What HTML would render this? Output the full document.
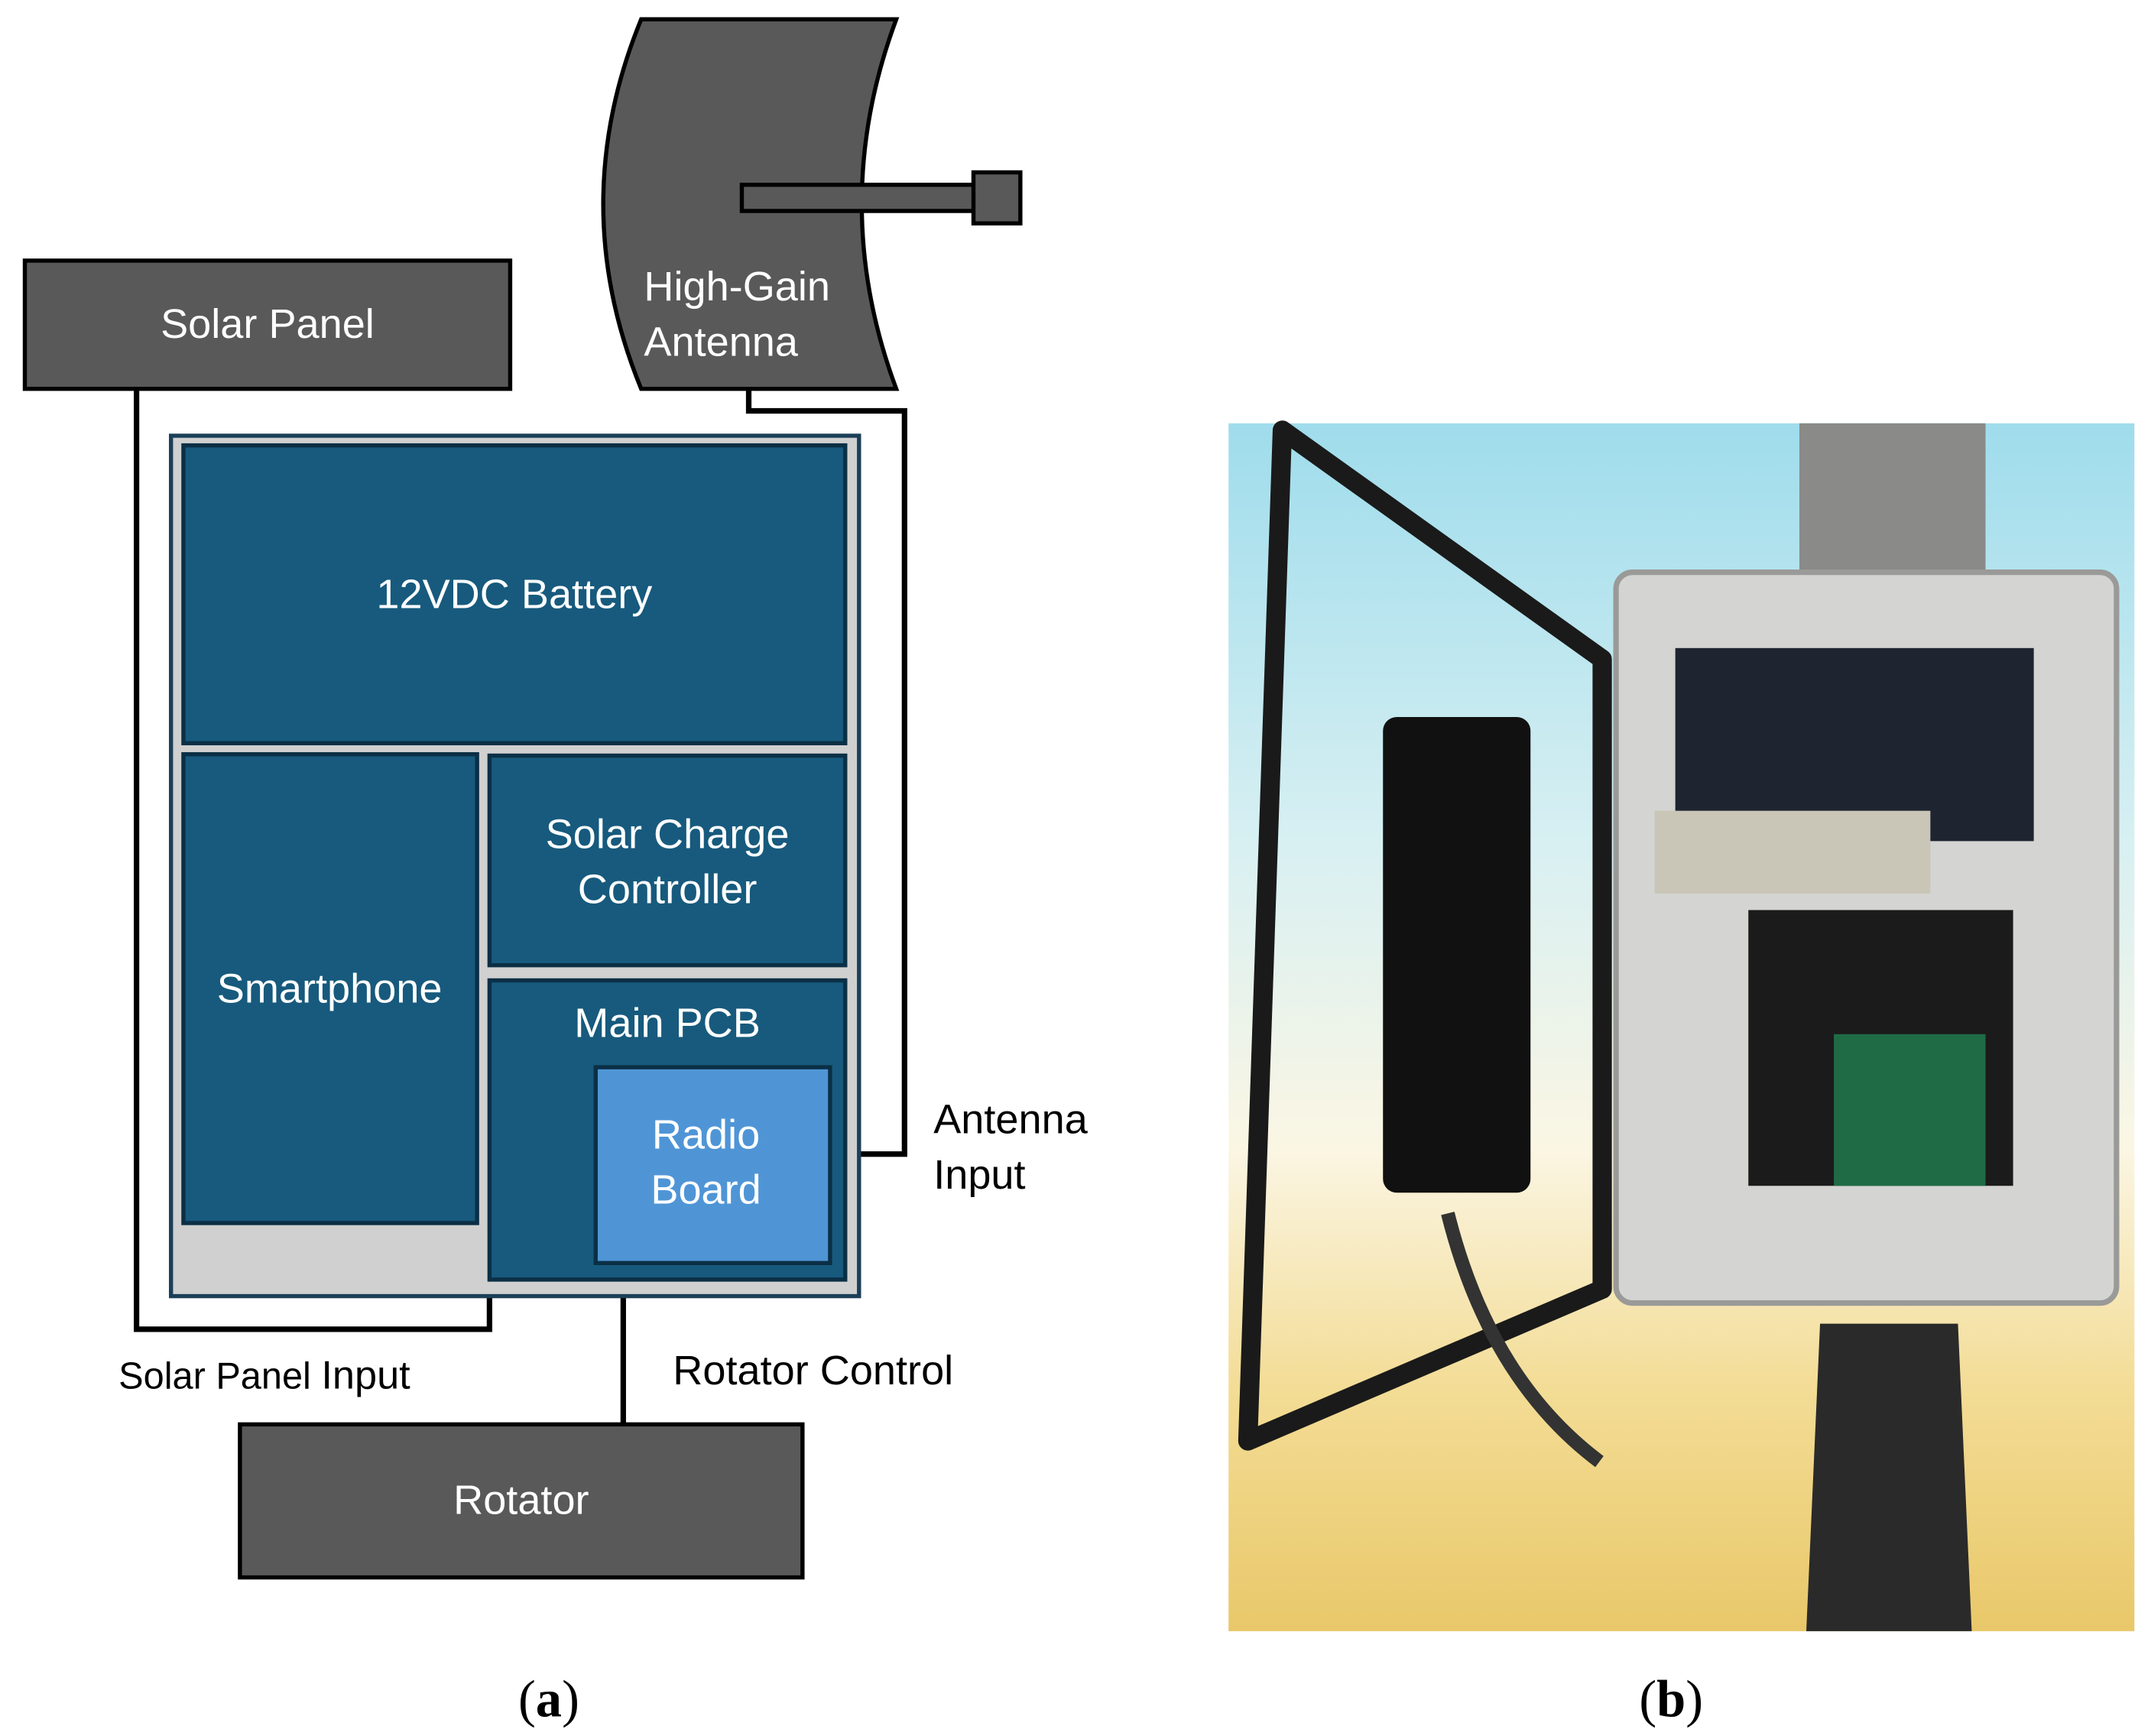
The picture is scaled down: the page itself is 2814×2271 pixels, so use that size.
<!DOCTYPE html>
<html><head><meta charset="utf-8"><style>html,body{margin:0;padding:0;background:#fff}svg{display:block}</style></head>
<body>
<svg width="2814" height="2271" viewBox="0 0 1560 1259" xmlns="http://www.w3.org/2000/svg" font-family="Liberation Sans, sans-serif">
<defs>
<linearGradient id="sky" x1="0" y1="0" x2="0" y2="1">
<stop offset="0" stop-color="#9fdcec"/><stop offset="0.35" stop-color="#d8f0f2"/><stop offset="0.6" stop-color="#fbf6e4"/><stop offset="0.8" stop-color="#f3dc95"/><stop offset="1" stop-color="#e9c86a"/>
</linearGradient>
</defs>
<rect x="18" y="189" width="352" height="93" fill="#595959" stroke="#000" stroke-width="3"/>
<text x="194" y="245" fill="#fff" font-size="30" text-anchor="middle">Solar Panel</text>
<path d="M465 14 L650 14 Q600 148 650 282 L465 282 Q410 148 465 14 Z" fill="#595959" stroke="#000" stroke-width="3"/>
<rect x="538" y="134" width="170" height="19" fill="#595959" stroke="#000" stroke-width="3"/>
<rect x="706" y="125" width="34" height="37" fill="#595959" stroke="#000" stroke-width="3"/>
<text x="467" y="218" fill="#fff" font-size="30">High-Gain</text>
<text x="467" y="258" fill="#fff" font-size="30">Antenna</text>
<polyline points="543,282 543,298 656,298 656,837 603,837" fill="none" stroke="#000" stroke-width="4"/>
<polyline points="99,282 99,964 355,964 355,940" fill="none" stroke="#000" stroke-width="4"/>
<line x1="452" y1="940" x2="452" y2="1033" stroke="#000" stroke-width="4"/>
<rect x="124" y="316" width="499" height="624" fill="#d0d0d0" stroke="#1b3f57" stroke-width="3"/>
<rect x="133" y="323" width="480" height="216" fill="#175a7d" stroke="#0b2f45" stroke-width="3"/>
<text x="373" y="441" fill="#fff" font-size="30" text-anchor="middle">12VDC Battery</text>
<rect x="133" y="547" width="213" height="340" fill="#175a7d" stroke="#0b2f45" stroke-width="3"/>
<text x="239" y="727" fill="#fff" font-size="30" text-anchor="middle">Smartphone</text>
<rect x="355" y="548" width="258" height="152" fill="#175a7d" stroke="#0b2f45" stroke-width="3"/>
<text x="484" y="615" fill="#fff" font-size="30" text-anchor="middle">Solar Charge</text>
<text x="484" y="655" fill="#fff" font-size="30" text-anchor="middle">Controller</text>
<rect x="355" y="711" width="258" height="217" fill="#175a7d" stroke="#0b2f45" stroke-width="3"/>
<text x="484" y="752" fill="#fff" font-size="30" text-anchor="middle">Main PCB</text>
<rect x="432" y="774" width="170" height="142" fill="#4f95d6" stroke="#0b2f45" stroke-width="3"/>
<text x="512" y="833" fill="#fff" font-size="30" text-anchor="middle">Radio</text>
<text x="512" y="873" fill="#fff" font-size="30" text-anchor="middle">Board</text>
<rect x="174" y="1033" width="408" height="111" fill="#595959" stroke="#000" stroke-width="3"/>
<text x="378" y="1098" fill="#fff" font-size="30" text-anchor="middle">Rotator</text>
<text x="86" y="1007" font-size="27" fill="#000">Solar Panel <tspan font-size="29">Input</tspan></text>
<text x="488" y="1004" font-size="30" fill="#000">Rotator Control</text>
<text x="677" y="822" font-size="30" fill="#000">Antenna</text>
<text x="677" y="862" font-size="30" fill="#000">Input</text>
<rect x="891" y="307" width="657" height="876" fill="url(#sky)"/>
<polygon points="930,312 1162,478 1162,935 905,1045" fill="none" stroke="#1a1a1a" stroke-width="14" stroke-linejoin="round"/>
<path d="M1320 960 L1420 960 L1430 1183 L1310 1183 Z" fill="#2a2a2a"/>
<rect x="1305" y="307" width="135" height="110" fill="#8a8a88"/>
<rect x="1172" y="415" width="363" height="530" rx="12" fill="#d4d4d2" stroke="#9a9a98" stroke-width="4"/>
<rect x="1215" y="470" width="260" height="140" fill="#1e2530"/>
<rect x="1200" y="588" width="200" height="60" fill="#c9c6b8"/>
<rect x="1268" y="660" width="192" height="200" fill="#1b1b1b"/>
<rect x="1330" y="750" width="110" height="110" fill="#1f6b45"/>
<rect x="1003" y="520" width="107" height="345" rx="10" fill="#111"/>
<path d="M1050 880 Q1080 1000 1160 1060" fill="none" stroke="#333" stroke-width="10"/>
<text x="398" y="1245" font-size="38" font-family="Liberation Serif, serif" text-anchor="middle">(<tspan font-weight="bold">a</tspan>)</text>
<text x="1212" y="1245" font-size="38" font-family="Liberation Serif, serif" text-anchor="middle">(<tspan font-weight="bold">b</tspan>)</text>
</svg>
</body></html>
